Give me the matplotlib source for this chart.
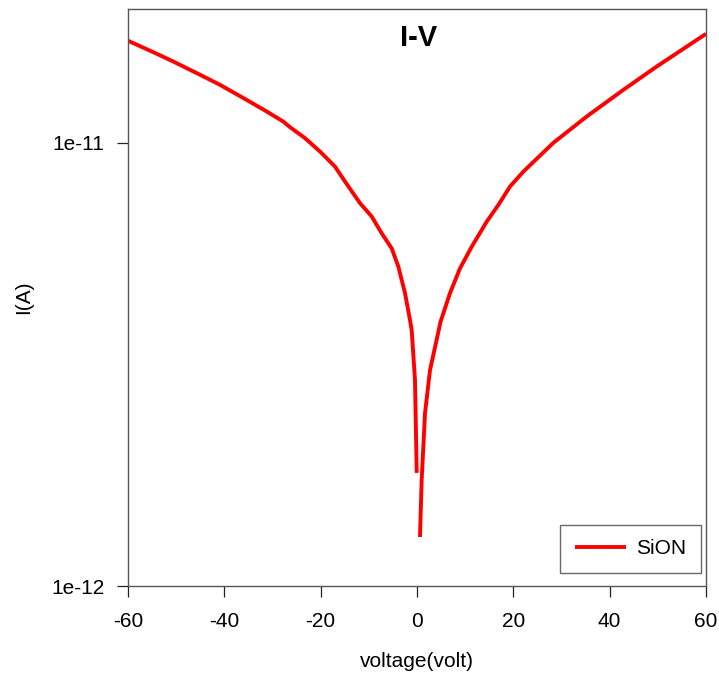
import matplotlib
matplotlib.use("Agg")
import matplotlib.pyplot as plt
from matplotlib.ticker import FixedLocator, NullLocator

plt.rcParams['font.family'] = ['Liberation Sans', 'DejaVu Sans']
plt.rcParams['axes.unicode_minus'] = False

# Data (voltage in V, current in A)
v_neg = [-60, -54.75, -50.6, -45.74, -40.9, -35.36, -31.2, -27.76, -26.37, -23.25,
         -20.14, -17.02, -14.95, -11.83, -9.40, -7.33, -5.25, -3.88, -2.49, -1.45,
         -1.10, -0.42, -0.06]
i_neg = [1.70e-11, 1.602e-11, 1.526e-11, 1.437e-11, 1.352e-11, 1.250e-11, 1.177e-11,
         1.117e-11, 1.085e-11, 1.025e-11, 9.56e-12, 8.84e-12, 8.18e-12, 7.31e-12,
         6.82e-12, 6.25e-12, 5.78e-12, 5.26e-12, 4.58e-12, 3.98e-12, 3.78e-12,
         2.92e-12, 1.80e-12]
v_pos = [0.62, 0.97, 1.66, 2.70, 4.9, 6.85, 8.93, 11.36, 14.47, 16.88, 19.31, 22.07,
         28.30, 35.25, 42.83, 49.77, 60]
i_pos = [1.29e-12, 1.735e-12, 2.45e-12, 3.07e-12, 3.95e-12, 4.58e-12, 5.21e-12,
         5.83e-12, 6.64e-12, 7.24e-12, 7.97e-12, 8.61e-12, 1.0e-11, 1.147e-11,
         1.317e-11, 1.487e-11, 1.762e-11]
x_ticks = [-60, -40, -20, 0, 20, 40, 60]
y_ticks = [1e-12, 1e-11]
y_tick_labels = ["1e-12", "1e-11"]

fig = plt.figure(figsize=(7.19, 6.78), dpi=100)
ax = fig.add_axes([128 / 719, 1 - 586 / 678, (706 - 128) / 719, (586 - 8.5) / 678])

line, = ax.plot(v_neg, i_neg, color='#ff0000', lw=2.8, label='SiON',
                solid_joinstyle='round', solid_capstyle='butt')
ax.plot(v_pos, i_pos, color='#ff0000', lw=2.8,
        solid_joinstyle='round', solid_capstyle='butt')

ax.set_yscale('log')
ax.set_xlim(-60, 60)
ax.set_ylim(1e-12, 2.01e-11)
ax.xaxis.set_major_locator(FixedLocator(x_ticks))
ax.yaxis.set_major_locator(FixedLocator(y_ticks))
ax.yaxis.set_minor_locator(NullLocator())
ax.set_yticklabels(y_tick_labels)
ax.tick_params(direction='out', length=8, width=0.9, color='#222222', labelsize=15)
ax.tick_params(axis='x', pad=11)
ax.tick_params(axis='y', pad=9)
for s in ax.spines.values():
    s.set_color('#555555')
    s.set_linewidth(1.0)

ax.set_xlabel('voltage(volt)', fontsize=15)
ax.xaxis.set_label_coords(0.5, -0.115)
ax.set_ylabel('I(A)', fontsize=15)
ax.yaxis.set_label_coords(-0.164, 0.5)
ax.text(0.503, 0.949, 'I-V', transform=ax.transAxes, ha='center', va='center',
        fontsize=21, fontweight='bold')

leg = ax.legend(loc='lower right', fontsize=15, frameon=True, fancybox=False,
                edgecolor='#444444', handlelength=2.45, handletextpad=0.5,
                borderpad=0.7, borderaxespad=0,
                bbox_to_anchor=(0.991, 0.023))
leg.get_frame().set_linewidth(1.0)

fig.savefig('out.png', dpi=100)
